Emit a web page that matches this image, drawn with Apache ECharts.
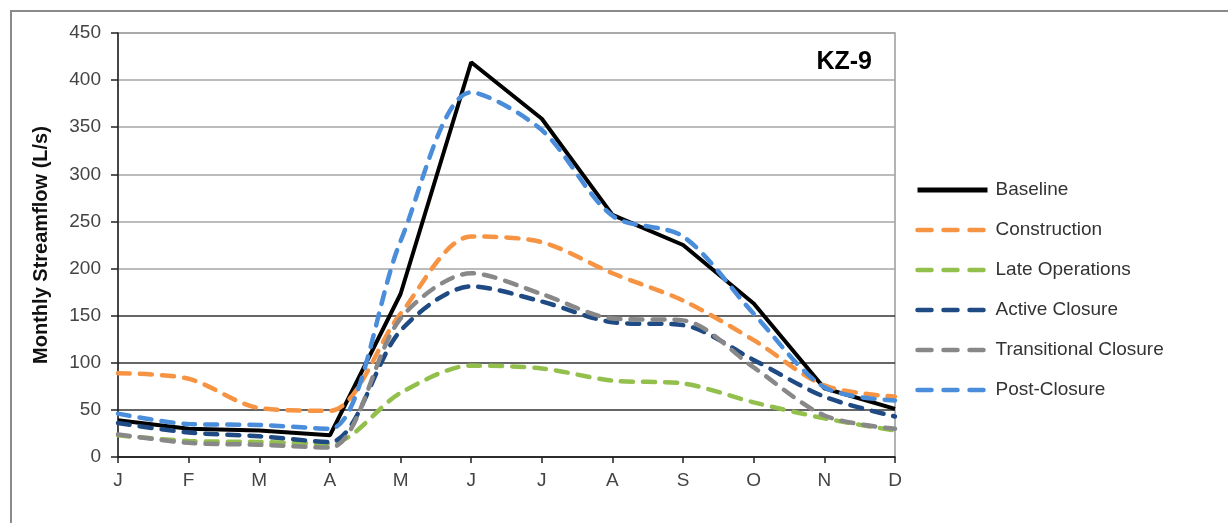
<!DOCTYPE html>
<html>
<head>
<meta charset="utf-8">
<script src="https://cdn.jsdelivr.net/npm/echarts@6/dist/echarts.min.js"></script>
<style>
  html, body { margin: 0; padding: 0; background: #fff; }
  #chart { width: 1228px; height: 523px; }
</style>
</head>
<body>
<div id="chart"></div>
<script>
var months = ['J', 'F', 'M', 'A', 'M', 'J', 'J', 'A', 'S', 'O', 'N', 'D'];
var yTicks = [0, 50, 100, 150, 200, 250, 300, 350, 400, 450];

var baseline      = [39, 30, 28, 23, 173, 419, 359, 257, 225, 163, 73, 51];
var construction  = [89, 83, 52, 49, 152, 234, 228, 195, 166, 124, 76, 64];
var lateOps       = [23, 17, 16, 14, 68, 97, 94, 81, 78, 58, 41, 28];
var activeClosure = [36, 26, 22, 16, 134, 181, 165, 143, 140, 103, 64, 43];
var transClosure  = [24, 15, 13, 10, 147, 195, 173, 147, 145, 95, 44, 30];
var postClosure   = [46, 35, 34, 30, 229, 387, 347, 256, 234, 152, 74, 60];

var font = 'Liberation Sans, Arial, sans-serif';

function dashed(name, data, color) {
    return {
        name: name,
        type: 'line',
        data: data,
        symbol: 'none',
        smooth: 0.3,
        lineStyle: { color: color, width: 4.5, type: [12, 10], cap: 'round' },
        itemStyle: { color: color }
    };
}

// legend entries: line only, no marker
var legDash = { width: 4.5, type: [14, 12], cap: 'round' };

var chart = echarts.init(document.getElementById('chart'));
var option = {
    animation: false,
    backgroundColor: '#fff',
    grid: {
        left: 118, right: 333, top: 33, bottom: 66,
        show: true, borderColor: '#9a9a9a', borderWidth: 1.5
    },
    graphic: [
        {
            type: 'polyline',
            shape: { points: [[11, 523], [11, 11], [1228, 11]] },
            style: { stroke: '#8a8a8a', lineWidth: 2, fill: null }
        },
        {
            type: 'text',
            x: 872, y: 62,
            style: {
                text: 'KZ-9', font: 'bold 25px ' + font, fill: '#000',
                textAlign: 'right', textVerticalAlign: 'middle'
            }
        }
    ],
    legend: {
        orient: 'vertical',
        left: 915, top: 180, padding: 0,
        itemWidth: 70, itemHeight: 20, itemGap: 20,
        itemStyle: { color: 'transparent', borderWidth: 0 },
        textStyle: { fontFamily: font, fontSize: 19, color: '#333', lineHeight: 20, padding: [0, 0, 0, 3] },
        data: [
            { name: 'Baseline', lineStyle: { width: 5 } },
            { name: 'Construction', lineStyle: legDash },
            { name: 'Late Operations', lineStyle: legDash },
            { name: 'Active Closure', lineStyle: legDash },
            { name: 'Transitional Closure', lineStyle: legDash },
            { name: 'Post-Closure', lineStyle: legDash }
        ]
    },
    xAxis: {
        type: 'category',
        data: months,
        boundaryGap: false,
        axisLine: { lineStyle: { color: '#222', width: 1.5 } },
        axisTick: { show: true, length: 6, lineStyle: { color: '#222', width: 1.5 } },
        axisLabel: { fontFamily: font, fontSize: 19, color: '#444', margin: 14 },
        splitLine: { show: false }
    },
    yAxis: {
        type: 'value',
        min: yTicks[0], max: yTicks[yTicks.length - 1], interval: 50,
        name: 'Monthly Streamflow (L/s)',
        nameLocation: 'middle',
        nameRotate: 90,
        nameGap: 67,
        nameTextStyle: { fontFamily: font, fontSize: 20, fontWeight: 'bold', color: '#111' },
        axisLine: { show: true, lineStyle: { color: '#222', width: 1.5 } },
        axisTick: { show: true, length: 7, lineStyle: { color: '#222', width: 1.5 } },
        axisLabel: { fontFamily: font, fontSize: 19, color: '#444', margin: 17 },
        splitLine: {
            show: true,
            lineStyle: {
                width: 1.5,
                color: ['#333', '#333', '#333', '#333', '#a6a6a6', '#a6a6a6', '#a6a6a6', '#a6a6a6', '#a6a6a6', '#a6a6a6']
            }
        }
    },
    series: [
        {
            name: 'Baseline',
            type: 'line',
            data: baseline,
            symbol: 'none',
            lineStyle: { color: '#000', width: 4 },
            itemStyle: { color: '#000' }
        },
        dashed('Construction', construction, '#f79443'),
        dashed('Late Operations', lateOps, '#93c04c'),
        dashed('Active Closure', activeClosure, '#1f4a84'),
        dashed('Transitional Closure', transClosure, '#888888'),
        dashed('Post-Closure', postClosure, '#4a8ddb')
    ]
};
chart.setOption(option);
</script>
</body>
</html>
